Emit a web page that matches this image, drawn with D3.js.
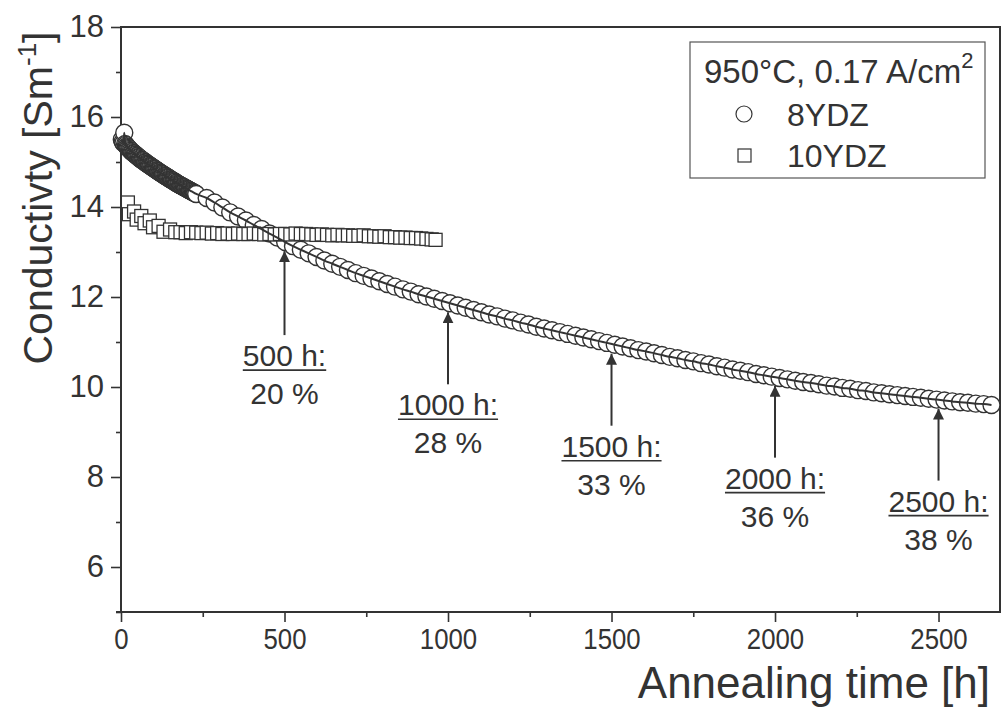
<!DOCTYPE html>
<html>
<head>
<meta charset="utf-8">
<script src="https://cdn.jsdelivr.net/npm/d3@7/dist/d3.min.js"></script>
<style>
  body { margin: 0; background: #fff; }
  svg { display: block; }
  svg text { font-family: Arial, "Liberation Sans", Helvetica, sans-serif; }
</style>
</head>
<body>
<div id="chart"></div>
<script>
//8YDZ: dense logging for the first ~230 h, then roughly one point per day
const hours8 = [2.5,5,7.5,10,12.5,15,17.5,20,22.5,25,27.5,30,32.5,35,37.5,40,42.5,45,47.5,50,
    52.5,55,57.5,60,62.5,65,67.5,70,72.5,75,77.5,80,82.5,85,87.5,90,92.5,95,97.5,100,
    102.5,105,107.5,110,112.5,115,117.5,120,122.5,125,127.5,130,132.5,135,137.5,140,142.5,145,147.5,150,
    152.5,155,157.5,160,162.5,165,167.5,170,172.5,175,177.5,180,182.5,185,187.5,190,192.5,195,197.5,200,
    202.5,205,207.5,210,212.5,215,217.5,220,222.5,225,227.5,230,
    262,286,310,334,358,382,406,430,454,478,502,526,550,574,598,622,646,670,694,718,
    742,766,790,814,838,862,886,910,934,958,982,1006,1030,1054,1078,1102,1126,1150,1174,1198,
    1222,1246,1270,1294,1318,1342,1366,1390,1414,1438,1462,1486,1510,1534,1558,1582,1606,1630,1654,1678,
    1702,1726,1750,1774,1798,1822,1846,1870,1894,1918,1942,1966,1990,2014,2038,2062,2086,2110,2134,2158,
    2182,2206,2230,2254,2278,2302,2326,2350,2374,2398,2422,2446,2470,2494,2518,2542,2566,2590,2614,2638,
    2662];
const cond8 = [15.50,15.45,15.42,15.65,15.40,15.38,15.35,15.33,15.31,15.29,
    15.27,15.25,15.23,15.22,15.20,15.19,15.17,15.16,15.14,15.13,
    15.11,15.10,15.08,15.07,15.05,15.04,15.03,15.02,15.00,14.99,
    14.97,14.96,14.95,14.94,14.92,14.91,14.90,14.89,14.87,14.86,
    14.85,14.84,14.82,14.81,14.80,14.79,14.77,14.76,14.75,14.74,
    14.73,14.72,14.70,14.69,14.68,14.67,14.66,14.65,14.63,14.62,
    14.61,14.60,14.59,14.58,14.57,14.56,14.54,14.53,14.52,14.51,
    14.50,14.49,14.48,14.47,14.46,14.45,14.44,14.43,14.42,14.41,
    14.40,14.39,14.38,14.37,14.36,14.35,14.34,14.33,14.32,14.31,
    14.30,14.29,
    14.20,14.10,13.99,13.88,13.79,13.70,13.60,13.51,13.41,13.32,
    13.22,13.13,13.05,12.97,12.89,12.81,12.74,12.67,12.60,12.53,
    12.47,12.41,12.35,12.29,12.23,12.17,12.12,12.06,12.01,11.96,
    11.91,11.86,11.81,11.76,11.71,11.66,11.61,11.57,11.52,11.48,
    11.43,11.39,11.34,11.30,11.26,11.22,11.18,11.14,11.10,11.06,
    11.02,10.98,10.94,10.90,10.86,10.82,10.79,10.75,10.71,10.67,
    10.64,10.60,10.57,10.53,10.50,10.46,10.43,10.39,10.36,10.33,
    10.29,10.26,10.23,10.20,10.17,10.14,10.11,10.09,10.06,10.03,
    10.01,9.98,9.96,9.93,9.91,9.88,9.86,9.84,9.82,9.80,
    9.78,9.76,9.74,9.72,9.70,9.68,9.66,9.65,9.63,9.62,
    9.60];

//10YDZ
const hours10 = [21,24,40,48,62,72,88,98,115,130,150,166,182,198,214,230,246,262,278,294,
    310,326,342,358,374,390,406,422,438,454,470,486,502,518,534,550,566,582,598,614,
    630,646,662,678,694,710,726,742,758,774,790,806,822,838,854,870,886,902,918,934,
    950,962];
const cond10 = [14.10,13.84,13.90,13.72,13.80,13.64,13.70,13.55,13.58,13.45,
    13.50,13.44,13.44,13.42,13.44,13.43,13.42,13.43,13.41,13.42,
    13.40,13.41,13.40,13.41,13.40,13.40,13.41,13.40,13.39,13.40,
    13.39,13.40,13.40,13.39,13.41,13.40,13.40,13.39,13.38,13.39,
    13.38,13.37,13.38,13.37,13.37,13.36,13.36,13.37,13.35,13.35,
    13.34,13.35,13.33,13.33,13.32,13.32,13.31,13.31,13.30,13.29,
    13.28,13.27];

//arrow annotations on the 8YDZ curve
const markHours = [500, 1000, 1500, 2000, 2500];
const markLoss = ['20 %', '28 %', '33 %', '36 %', '38 %'];

//axis ticks
const xMajor = [0, 500, 1000, 1500, 2000, 2500];
const xMinor = [250, 750, 1250, 1750, 2250];
const yMajor = [6, 8, 10, 12, 14, 16, 18];
const yMinor = [5, 7, 9, 11, 13, 15, 17];

const width = 1008, height = 707;
const margin = {top: 27, right: 8, bottom: 95, left: 121};
const ink = '#333';

const svg = d3.select('#chart').append('svg')
    .attr('width', width)
    .attr('height', height);

const x = d3.scaleLinear().domain([0, 2688]).range([margin.left, width - margin.right]);
const y = d3.scaleLinear().domain([5, 18]).range([height - margin.bottom, margin.top]);

const data8 = hours8.map((h, i) => ({h: h, v: cond8[i]}));
const data10 = hours10.map((h, i) => ({h: h, v: cond10[i]}));

//axes
const xAxis = svg.append('g')
    .attr('transform', `translate(0, ${y(5)})`)
    .call(d3.axisBottom(x).tickValues(xMajor).tickSize(10).tickPadding(6).tickFormat(d3.format('d')));
xAxis.selectAll('text')
    .attr('transform', 'scale(0.86,1)')
    .style('font-size', '30px');
svg.append('g')
    .attr('transform', `translate(0, ${y(5)})`)
    .call(d3.axisBottom(x).tickValues(xMinor).tickSize(5).tickFormat(''));

const yAxis = svg.append('g')
    .attr('transform', `translate(${x(0)}, 0)`)
    .call(d3.axisLeft(y).tickValues(yMajor).tickSize(10).tickPadding(7));
yAxis.selectAll('text').style('font-size', '31px');
svg.append('g')
    .attr('transform', `translate(${x(0)}, 0)`)
    .call(d3.axisLeft(y).tickValues(yMinor).tickSize(5).tickFormat(''));

svg.selectAll('.domain').remove();
svg.selectAll('.tick line').attr('stroke', ink).attr('stroke-width', 1.6);
svg.selectAll('.tick text').attr('fill', ink);

//frame
svg.append('rect')
    .attr('x', x(0))
    .attr('y', y(18))
    .attr('width', x.range()[1] - x(0))
    .attr('height', y(5) - y(18))
    .attr('fill', 'none')
    .attr('stroke', ink)
    .attr('stroke-width', 2);
svg.append('line')
    .attr('x1', x(0) - 5).attr('x2', x(0))
    .attr('y1', y(5)).attr('y2', y(5))
    .attr('stroke', ink).attr('stroke-width', 2);

//axis titles
const yTitle = svg.append('text')
    .attr('transform', `translate(52, 198) rotate(-90)`)
    .attr('text-anchor', 'middle')
    .attr('fill', ink)
    .style('font-size', '41px');
yTitle.append('tspan').text('Conductivty [Sm');
yTitle.append('tspan').attr('dy', -16).style('font-size', '26px').text('-1');
yTitle.append('tspan').attr('dy', 16).text(']');

svg.append('text')
    .attr('x', 990)
    .attr('y', 698)
    .attr('text-anchor', 'end')
    .attr('fill', ink)
    .style('font-size', '44px')
    .text('Annealing time [h]');

//8YDZ circles, drawn in order so each one covers the last
svg.append('g')
    .selectAll('circle')
    .data(data8)
    .enter().append('circle')
    .attr('cx', d => x(d.h))
    .attr('cy', d => y(d.v))
    .attr('r', 8.5)
    .attr('fill', '#fff')
    .attr('stroke', ink)
    .attr('stroke-width', 1.4);

//10YDZ squares
const sq = 13;
svg.append('g')
    .selectAll('rect')
    .data(data10)
    .enter().append('rect')
    .attr('x', d => x(d.h) - sq / 2)
    .attr('y', d => y(d.v) - sq / 2)
    .attr('width', sq)
    .attr('height', sq)
    .attr('fill', '#fff')
    .attr('stroke', ink)
    .attr('stroke-width', 1.3);

//line through the 8YDZ points
svg.append('path')
    .datum(data8)
    .attr('fill', 'none')
    .attr('stroke', ink)
    .attr('stroke-width', 2)
    .attr('d', d3.line().x(d => x(d.h)).y(d => y(d.v)).curve(d3.curveMonotoneX));

//annotations
const arrowLen = [84, 72, 72, 72, 72];
svg.append('defs').append('marker')
    .attr('id', 'head')
    .attr('viewBox', '0 0 10 10')
    .attr('refX', 10).attr('refY', 5)
    .attr('markerWidth', 11).attr('markerHeight', 11)
    .attr('markerUnits', 'userSpaceOnUse')
    .attr('orient', 'auto')
    .append('path')
    .attr('d', 'M0,0 L10,5 L0,10 Z')
    .attr('fill', ink);

markHours.forEach(function(h, i) {
    //value on the curve closest to the marked time
    let near = data8.reduce((a, b) => Math.abs(b.h - h) < Math.abs(a.h - h) ? b : a);
    let tip = y(near.v) + 9;
    let base = tip + arrowLen[i];
    svg.append('line')
        .attr('x1', x(h)).attr('x2', x(h))
        .attr('y1', base).attr('y2', tip)
        .attr('stroke', ink)
        .attr('stroke-width', 2)
        .attr('marker-end', 'url(#head)');

    let t1 = svg.append('text')
        .attr('x', x(h))
        .attr('y', base + 31)
        .attr('text-anchor', 'middle')
        .attr('fill', ink)
        .style('font-size', '30px')
        .text(`${h} h:`);
    let w = t1.node().getComputedTextLength();
    svg.append('line')
        .attr('x1', x(h) - w / 2).attr('x2', x(h) + w / 2)
        .attr('y1', base + 35).attr('y2', base + 35)
        .attr('stroke', ink)
        .attr('stroke-width', 1.6);
    svg.append('text')
        .attr('x', x(h))
        .attr('y', base + 69)
        .attr('text-anchor', 'middle')
        .attr('fill', ink)
        .style('font-size', '30px')
        .text(markLoss[i]);
});

//legend
const legend = svg.append('g');
legend.append('rect')
    .attr('x', 690).attr('y', 42)
    .attr('width', 295).attr('height', 136)
    .attr('fill', '#fff')
    .attr('stroke', '#555')
    .attr('stroke-width', 1.2);
const lt = legend.append('text')
    .attr('x', 704).attr('y', 83)
    .attr('fill', ink)
    .style('font-size', '33px');
lt.append('tspan').text('950°C, 0.17 A/cm');
lt.append('tspan').attr('dy', -15).style('font-size', '22px').text('2');
legend.append('circle')
    .attr('cx', 744).attr('cy', 114).attr('r', 8)
    .attr('fill', '#fff').attr('stroke', ink).attr('stroke-width', 1.2);
legend.append('text')
    .attr('x', 787).attr('y', 126)
    .attr('fill', ink)
    .style('font-size', '32px')
    .text('8YDZ');
legend.append('rect')
    .attr('x', 738).attr('y', 149).attr('width', 13).attr('height', 13)
    .attr('fill', '#fff').attr('stroke', ink).attr('stroke-width', 1.2);
legend.append('text')
    .attr('x', 787).attr('y', 167)
    .attr('fill', ink)
    .style('font-size', '32px')
    .text('10YDZ');
</script>
</body>
</html>
